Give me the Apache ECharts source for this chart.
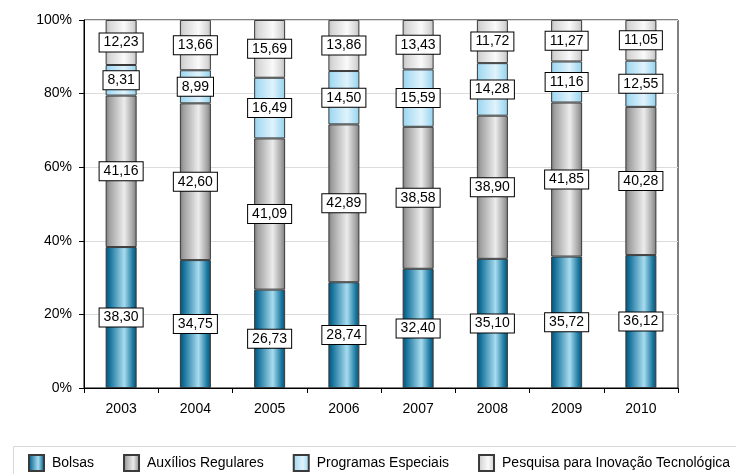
<!DOCTYPE html>
<html><head><meta charset="utf-8">
<script src="https://cdn.jsdelivr.net/npm/echarts@6/dist/echarts.min.js"></script>
<style>html,body{margin:0;padding:0;background:#fff}#c{width:736px;height:474px}</style>
</head><body><div id="c"></div>
<script>
var years = ['2003','2004','2005','2006','2007','2008','2009','2010'];
var bolsas = [38.30, 34.75, 26.73, 28.74, 32.40, 35.10, 35.72, 36.12];
var auxilios = [41.16, 42.60, 41.09, 42.89, 38.58, 38.90, 41.85, 40.28];
var programas = [8.31, 8.99, 16.49, 14.50, 15.59, 14.28, 11.16, 12.55];
var pesquisa = [12.23, 13.66, 15.69, 13.86, 13.43, 11.72, 11.27, 11.05];
var seriesNames = ['Bolsas','Auxílios Regulares','Programas Especiais','Pesquisa para Inovação Tecnológica'];

var FONT = 'Liberation Sans';
function grad(stops){
  return new echarts.graphic.LinearGradient(0,0,1,0, stops.map(function(s){return {offset:s[0], color:s[1]};}));
}
var fills = [
  grad([[0,'#0a4f70'],[0.12,'#13709a'],[0.6,'#a8dcef'],[0.88,'#1a78a0'],[1,'#0a4f70']]),
  grad([[0,'#7a7a7a'],[0.12,'#a0a0a0'],[0.6,'#ececec'],[0.88,'#a4a4a4'],[1,'#7a7a7a']]),
  grad([[0,'#8fd0ee'],[0.12,'#a9dcf3'],[0.6,'#e0f3fc'],[0.88,'#aadcf2'],[1,'#8fd0ee'] ]),
  grad([[0,'#bdbdbd'],[0.12,'#d6d6d6'],[0.6,'#fafafa'],[0.88,'#d8d8d8'],[1,'#bdbdbd']])
];
var datasets = [bolsas, auxilios, programas, pesquisa];

var chart = echarts.init(document.getElementById('c'), null, {renderer:'canvas'});
chart.setOption({
  animation:false,
  textStyle:{fontFamily:FONT},
  grid:{left:84, right:58, top:20, bottom:86, show:true, borderColor:'#000', borderWidth:1, backgroundColor:'transparent'},
  xAxis:{type:'category', data:years, boundaryGap:true,
    axisLine:{lineStyle:{color:'#000', width:1}},
    axisTick:{show:true, length:5, lineStyle:{color:'#000'}},
    axisLabel:{color:'#000', fontSize:14, fontFamily:FONT, margin:14}},
  yAxis:{type:'value', min:0, max:100, interval:20,
    axisLine:{show:true, lineStyle:{color:'#000'}},
    axisTick:{show:true, length:5, lineStyle:{color:'#000'}},
    axisLabel:{color:'#000', fontSize:14, fontFamily:FONT, formatter:'{value}%', margin:12},
    splitLine:{show:true, lineStyle:{color:'#dcdcdc', width:1}}},
  legend:{top:449, left:23, itemWidth:15, itemHeight:16, itemGap:29, icon:'rect',
    textStyle:{color:'#000', fontSize:14, fontFamily:FONT, padding:[0,0,0,3]},
    data:seriesNames},
  graphic:[{type:'rect', shape:{x:13.5, y:446.5, width:760, height:40}, style:{fill:'none', stroke:'#d8d8d8', lineWidth:1}, silent:true}],
  series: datasets.map(function(d,i){
    return {name:seriesNames[i], type:'bar', stack:'total', data:d, barWidth:31,
      itemStyle:{color:fills[i], borderColor:'#3a3a3a', borderWidth:1},
      label:{show:true, position:'inside', color:'#000', fontSize:14, fontFamily:FONT,
        backgroundColor:'#fff', borderColor:'#000', borderWidth:1, padding:[2,4,1,4], lineHeight:15,
        formatter:function(p){return p.value.toFixed(2).replace('.',',');}}};
  })
});
</script></body></html>
